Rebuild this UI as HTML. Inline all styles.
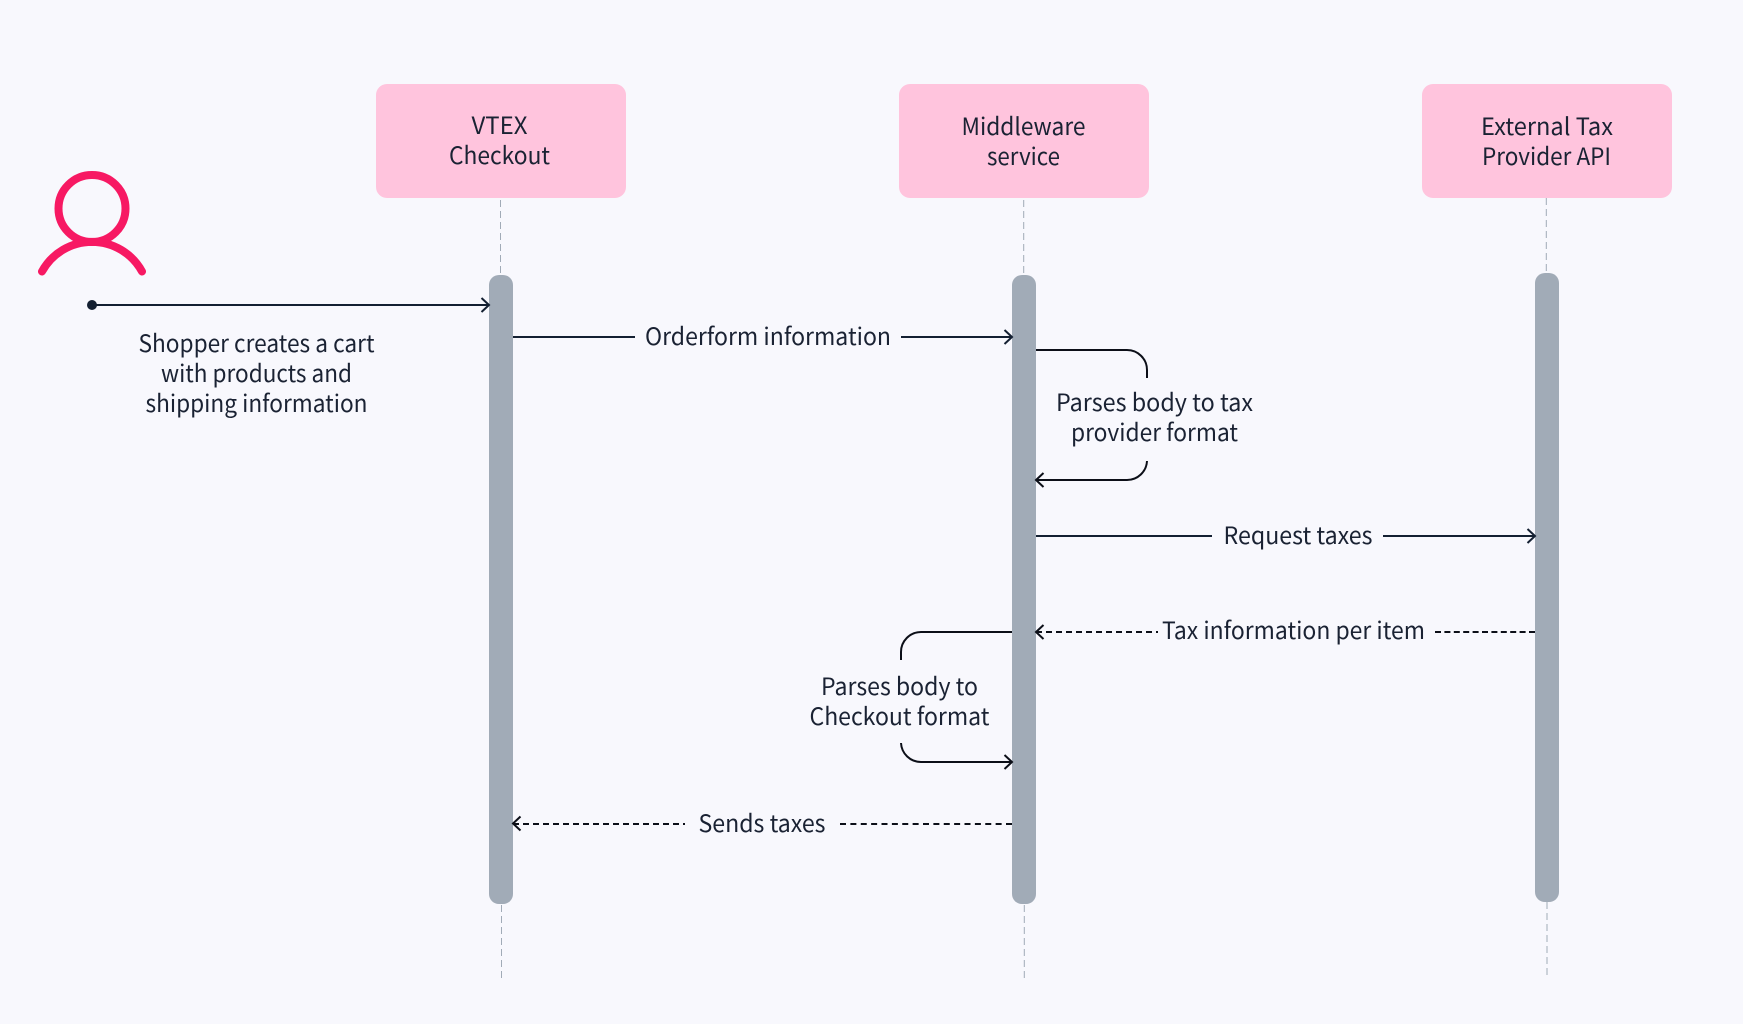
<!DOCTYPE html>
<html><head><meta charset="utf-8"><style>
html,body{margin:0;padding:0;background:#f8f8fd;width:1743px;height:1024px;overflow:hidden}
svg{display:block}
text{font-family:"Noto Sans CJK JP","Liberation Sans",sans-serif;font-size:24px;fill:#1a2233;text-anchor:start}
</style></head><body>
<svg width="1743" height="1024" viewBox="0 0 1743 1024" xmlns="http://www.w3.org/2000/svg">
<rect width="1743" height="1024" fill="#f8f8fd"/>
<g fill="#ffc4dd">
<rect x="376" y="84" width="250" height="114" rx="11"/>
<rect x="899" y="84" width="250" height="114" rx="11"/>
<rect x="1422" y="84" width="250" height="114" rx="11"/>
</g>
<g stroke="#a1abb7" stroke-width="1" stroke-dasharray="7 4" fill="none">
<path d="M500.500 200V275M501.500 905V980M1023.700 200V275M1024.300 905V979M1546.300 198V273M1547 902V977"/>
</g>
<g fill="#a1abb7">
<rect x="489" y="275" width="24" height="629" rx="10"/>
<rect x="1012" y="275" width="24" height="629" rx="10"/>
<rect x="1535" y="273" width="24" height="629" rx="10"/>
</g>
<g fill="none" stroke="#f71963" stroke-width="8" stroke-linecap="round">
<circle cx="92" cy="208.500" r="33.500"/>
<path d="M42 271.500A57 57 0 0 1 142 271.500"/>
</g>
<circle cx="92" cy="305" r="5" fill="#142032"/>
<g fill="none" stroke="#142032" stroke-width="2">
<path d="M92 305H489M481.500 298l7.500 7-7.500 7"/>
<path d="M513 337H635M901 337H1012M1004.500 330l7.500 7-7.500 7"/>
<path d="M1036 536H1212M1383 536H1535M1527.500 529l7.500 7-7.500 7"/>
</g>
<g fill="none" stroke="#0c0f18" stroke-width="2">
<path d="M1036 350H1127A20 20 0 0 1 1147 370V378"/>
<path d="M1147 461A20 20 0 0 1 1127 480H1036M1043.500 473l-7.500 7 7.500 7"/>
<path d="M1012 632H921A20 20 0 0 0 901 652V660"/>
<path d="M901 743A20 20 0 0 0 921 762H1012M1004.500 755l7.500 7-7.500 7"/>
<path d="M1043.500 625l-7.500 7 7.500 7M520.500 816.500l-7.500 7 7.500 7"/>
<path stroke-dasharray="6 4" d="M1036 632H1158M513 824H685"/>
<path stroke-dasharray="6 3.400" d="M1435 632H1535"/>
<path stroke-dasharray="6 4.375" d="M840 824H1012"/>
</g>
<text x="471.500" y="134" textLength="56" lengthAdjust="spacingAndGlyphs">VTEX</text>
<text x="449" y="164" textLength="101" lengthAdjust="spacingAndGlyphs">Checkout</text>
<text x="961.500" y="135" textLength="124" lengthAdjust="spacingAndGlyphs">Middleware</text>
<text x="987" y="165" textLength="73" lengthAdjust="spacingAndGlyphs">service</text>
<text x="1481" y="135" textLength="132" lengthAdjust="spacingAndGlyphs">External Tax</text>
<text x="1482" y="165" textLength="129" lengthAdjust="spacingAndGlyphs">Provider API</text>
<text x="138.500" y="352" textLength="236" lengthAdjust="spacingAndGlyphs">Shopper creates a cart</text>
<text x="161" y="382" textLength="191" lengthAdjust="spacingAndGlyphs">with products and</text>
<text x="145.500" y="412" textLength="222" lengthAdjust="spacingAndGlyphs">shipping information</text>
<text x="645" y="345" textLength="246" lengthAdjust="spacingAndGlyphs">Orderform information</text>
<text x="1056" y="411" textLength="197" lengthAdjust="spacingAndGlyphs">Parses body to tax</text>
<text x="1071" y="441" textLength="167" lengthAdjust="spacingAndGlyphs">provider format</text>
<text x="1223.500" y="544" textLength="149" lengthAdjust="spacingAndGlyphs">Request taxes</text>
<text x="1162" y="639" textLength="263" lengthAdjust="spacingAndGlyphs">Tax information per item</text>
<text x="821" y="695" textLength="157" lengthAdjust="spacingAndGlyphs">Parses body to</text>
<text x="809.500" y="725" textLength="180" lengthAdjust="spacingAndGlyphs">Checkout format</text>
<text x="698.500" y="832" textLength="127" lengthAdjust="spacingAndGlyphs">Sends taxes</text>
</svg>
</body></html>
